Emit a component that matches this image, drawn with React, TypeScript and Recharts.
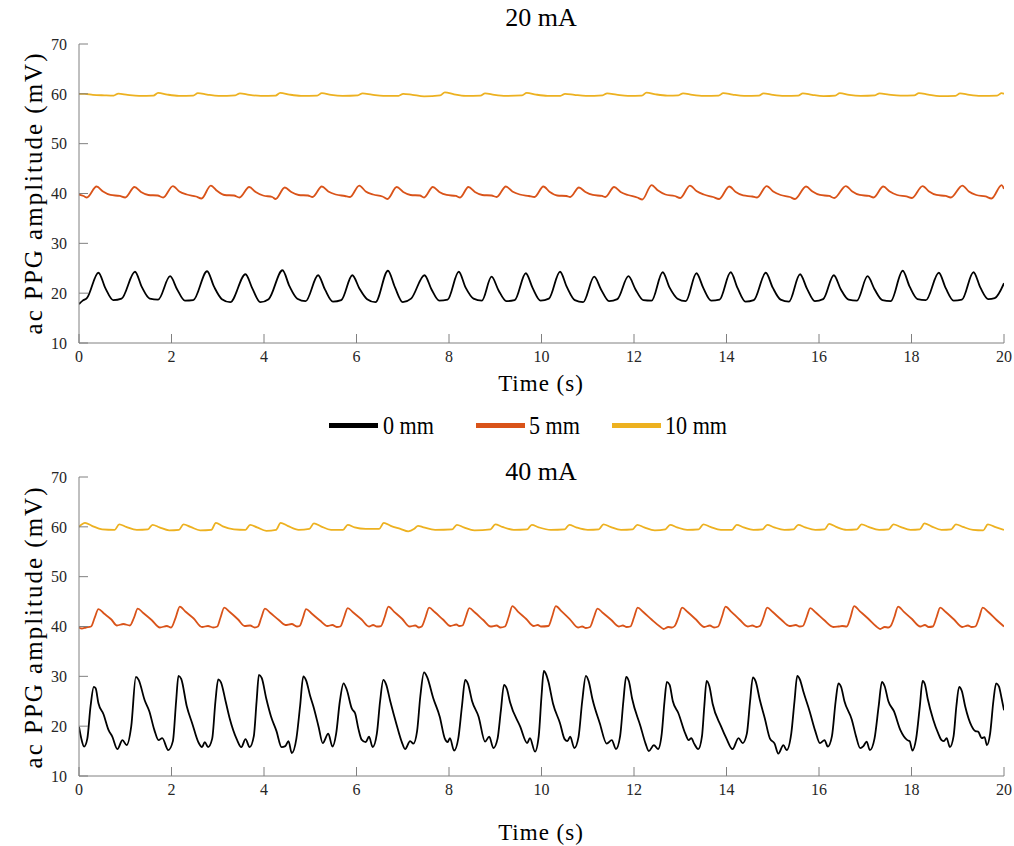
import React from 'react';
import { LineChart, Line, XAxis, YAxis } from 'recharts';

const xTicks = [0, 2, 4, 6, 8, 10, 12, 14, 16, 18, 20];
const yTicks = [10, 20, 30, 40, 50, 60, 70];
const seriesNames = ['0 mm', '5 mm', '10 mm'];
const seriesColors = ['#000000', '#D95319', '#EDB120'];
const panelTitles = ['20 mA', '40 mA'];
const xLabel = 'Time (s)';
const yLabel = 'ac PPG amplitude (mV)';

// 20 mA, 0 mm
const top0mm: number[][] = [
  [0,17.8],[0.08,18.5],[0.17,19.0],
  [0.42,24.1],[0.57,21.0],[0.74,18.6],[0.92,18.9],
  [1.21,24.3],[1.36,21.2],[1.53,18.9],[1.71,18.7],
  [1.97,23.4],[2.12,20.8],[2.29,18.5],[2.47,18.6],
  [2.77,24.4],[2.92,21.3],[3.09,18.8],[3.27,18.2],
  [3.6,23.8],[3.75,20.9],[3.92,18.2],[4.1,18.8],
  [4.4,24.6],[4.55,21.4],[4.72,18.9],[4.9,18.4],
  [5.17,23.6],[5.32,20.7],[5.49,18.3],[5.67,18.6],
  [5.91,23.6],[6.06,21.0],[6.23,18.8],[6.41,18.2],
  [6.68,24.5],[6.83,21.2],[7.0,18.2],[7.18,18.9],
  [7.47,23.6],[7.62,20.8],[7.79,18.5],[7.97,18.7],
  [8.21,24.3],[8.36,21.1],[8.53,18.9],[8.71,18.5],
  [8.92,23.3],[9.07,20.6],[9.24,18.4],[9.42,18.6],
  [9.66,24.0],[9.81,21.0],[9.98,18.5],[10.16,18.9],
  [10.4,24.3],[10.55,21.2],[10.72,18.6],[10.9,18.2],
  [11.14,23.3],[11.29,20.7],[11.46,18.4],[11.64,18.8],
  [11.88,23.4],[12.03,20.8],[12.2,18.6],[12.38,18.5],
  [12.62,24.2],[12.77,21.1],[12.94,18.9],[13.12,18.4],
  [13.35,24.0],[13.5,21.0],[13.67,18.5],[13.85,18.7],
  [14.09,24.2],[14.24,21.0],[14.41,18.3],[14.59,18.6],
  [14.85,24.1],[15.0,21.1],[15.17,18.7],[15.35,18.3],
  [15.59,23.8],[15.74,20.9],[15.91,18.4],[16.09,18.8],
  [16.32,23.6],[16.47,20.8],[16.64,18.7],[16.82,18.5],
  [17.05,23.4],[17.2,20.8],[17.37,18.6],[17.55,18.4],
  [17.81,24.5],[17.96,21.3],[18.13,18.8],[18.31,18.6],
  [18.59,24.1],[18.74,21.0],[18.91,18.5],[19.09,18.7],
  [19.34,24.2],[19.49,21.1],[19.66,18.8],[19.8,19.0],[20,22.0],
];

// 20 mA, 5 mm
const top5mm: number[][] = [
  [0,39.8],[0.1,39.5],[0.17,39.2],
  [0.38,41.4],[0.52,40.4],[0.68,39.7],[0.88,39.5],[1.0,39.2],
  [1.2,41.3],[1.34,40.3],[1.5,39.7],[1.7,39.6],[1.82,39.2],
  [2.03,41.5],[2.17,40.4],[2.33,39.8],[2.53,39.4],[2.65,39.0],
  [2.85,41.6],[2.99,40.5],[3.15,39.7],[3.35,39.6],[3.47,39.2],
  [3.68,41.3],[3.82,40.3],[3.98,39.6],[4.18,39.3],[4.25,38.9],
  [4.45,41.2],[4.59,40.3],[4.75,39.7],[4.95,39.6],[5.05,39.3],
  [5.25,41.4],[5.39,40.4],[5.55,39.8],[5.75,39.5],[5.86,39.3],
  [6.06,41.6],[6.2,40.4],[6.36,39.8],[6.56,39.4],[6.67,38.9],
  [6.87,41.3],[7.01,40.3],[7.17,39.7],[7.37,39.6],[7.46,39.2],
  [7.65,41.3],[7.79,40.3],[7.95,39.7],[8.15,39.5],[8.24,39.2],
  [8.42,41.3],[8.56,40.3],[8.72,39.7],[8.92,39.6],[9.03,39.3],
  [9.23,41.4],[9.37,40.4],[9.53,39.8],[9.73,39.5],[9.85,39.3],
  [10.04,41.4],[10.18,40.3],[10.34,39.6],[10.54,39.5],[10.62,39.3],
  [10.81,41.2],[10.95,40.3],[11.11,39.7],[11.31,39.5],[11.38,39.3],
  [11.57,41.3],[11.71,40.3],[11.87,39.7],[12.07,39.2],[12.18,38.8],
  [12.38,41.7],[12.52,40.6],[12.68,39.8],[12.88,39.5],[13.0,39.1],
  [13.21,41.6],[13.35,40.5],[13.51,39.8],[13.71,39.3],[13.84,38.9],
  [14.06,41.4],[14.2,40.3],[14.36,39.6],[14.56,39.4],[14.66,39.2],
  [14.87,41.5],[15.01,40.4],[15.17,39.7],[15.37,39.3],[15.48,38.9],
  [15.72,41.4],[15.86,40.4],[16.02,39.7],[16.22,39.5],[16.33,39.1],
  [16.58,41.5],[16.72,40.4],[16.88,39.7],[17.08,39.5],[17.18,39.2],
  [17.39,41.4],[17.53,40.4],[17.69,39.7],[17.89,39.4],[18.01,39.1],
  [18.24,41.5],[18.38,40.4],[18.54,39.7],[18.74,39.5],[18.85,39.2],
  [19.1,41.6],[19.24,40.4],[19.4,39.7],[19.6,39.4],[19.73,39.0],
  [19.95,41.7],[20,40.9],
];

// 20 mA, 10 mm
const top10mm: number[][] = [
  [0,60.0],[0.12,60.0],[0.3,59.8],[0.55,59.7],[0.75,59.65],
  [0.85,60.05],[1.05,59.8],[1.3,59.6],[1.61,59.65],
  [1.71,60.2],[1.91,59.85],[2.16,59.6],[2.47,59.65],
  [2.57,60.15],[2.77,59.85],[3.02,59.6],[3.38,59.7],
  [3.48,60.1],[3.68,59.8],[3.93,59.6],[4.25,59.65],
  [4.35,60.2],[4.55,59.85],[4.8,59.6],[5.15,59.65],
  [5.25,60.15],[5.45,59.8],[5.7,59.6],[6.03,59.7],
  [6.13,60.1],[6.33,59.85],[6.58,59.6],[6.91,59.6],
  [7.01,60.0],[7.21,59.8],[7.46,59.5],[7.81,59.7],
  [7.91,60.3],[8.11,59.9],[8.36,59.6],[8.68,59.65],
  [8.78,60.1],[8.98,59.8],[9.23,59.6],[9.58,59.7],
  [9.68,60.2],[9.88,59.85],[10.13,59.6],[10.41,59.6],
  [10.51,60.0],[10.71,59.8],[10.96,59.6],[11.32,59.7],
  [11.42,60.1],[11.62,59.85],[11.87,59.6],[12.17,59.65],
  [12.27,60.25],[12.47,59.9],[12.72,59.65],[12.96,59.7],
  [13.06,60.1],[13.26,59.8],[13.51,59.6],[13.83,59.65],
  [13.93,60.15],[14.13,59.85],[14.38,59.6],[14.7,59.65],
  [14.8,60.1],[15.0,59.8],[15.25,59.6],[15.55,59.65],
  [15.65,60.1],[15.85,59.8],[16.1,59.55],[16.35,59.65],
  [16.45,60.15],[16.65,59.8],[16.9,59.6],[17.21,59.7],
  [17.31,60.1],[17.51,59.85],[17.76,59.65],[18.06,59.7],
  [18.16,60.15],[18.36,59.85],[18.61,59.55],[18.95,59.6],
  [19.05,60.1],[19.25,59.8],[19.5,59.6],[19.85,59.65],
  [19.95,60.15],[20,60.0],
];

// 40 mA, 0 mm
const bot0mm: number[][] = [
  [0,19.9],[0.05,17.5],[0.11,15.9],[0.18,17.5],[0.25,24.0],[0.32,27.9],[0.36,27.6],
  [0.42,24.6],[0.53,22.4],[0.64,19.2],[0.72,17.9],[0.83,15.4],[0.94,17.2],[1.03,16.2],[1.13,20.0],[1.23,29.9],
  [1.29,29.3],[1.42,25.2],[1.52,23.0],[1.63,19.2],[1.72,17.2],[1.8,17.6],[1.93,15.2],[2.03,17.0],[2.1,25.0],[2.15,30.1],
  [2.21,29.5],[2.33,24.0],[2.45,20.5],[2.58,16.8],[2.66,15.8],[2.72,16.8],[2.79,15.8],[2.88,17.5],[2.95,25.0],[3.01,29.4],
  [3.07,28.8],[3.17,25.0],[3.26,21.5],[3.41,17.4],[3.51,15.8],[3.6,17.4],[3.69,15.8],[3.78,18.0],[3.84,25.0],[3.89,30.3],
  [3.95,29.7],[4.05,25.5],[4.15,22.0],[4.27,19.0],[4.38,15.8],[4.46,16.0],[4.53,17.0],[4.6,14.6],[4.7,17.5],[4.78,24.0],[4.85,30.0],
  [4.91,29.2],[5.0,26.0],[5.07,23.9],[5.18,19.9],[5.27,16.6],[5.39,18.5],[5.48,15.9],[5.56,18.5],[5.64,25.0],[5.72,28.6],
  [5.79,27.3],[5.9,23.5],[5.97,22.6],[6.04,19.5],[6.11,17.3],[6.2,16.8],[6.27,17.9],[6.35,15.8],[6.44,18.5],[6.51,25.0],[6.58,29.3],
  [6.64,28.4],[6.73,25.0],[6.87,20.2],[6.98,16.8],[7.05,15.4],[7.16,17.0],[7.23,16.5],[7.31,19.0],[7.38,26.0],[7.46,30.8],
  [7.53,29.8],[7.66,25.6],[7.8,21.9],[7.91,17.5],[7.97,16.8],[8.02,17.6],[8.11,15.1],[8.2,17.5],[8.28,24.0],[8.35,29.3],
  [8.41,28.5],[8.5,25.0],[8.64,21.9],[8.78,16.9],[8.87,17.9],[8.96,15.6],[9.05,17.5],[9.12,23.0],[9.19,28.3],
  [9.25,27.5],[9.32,24.8],[9.54,19.9],[9.69,16.6],[9.75,17.6],[9.86,14.9],[9.94,18.0],[10.0,26.0],[10.05,31.1],
  [10.1,30.4],[10.15,28.9],[10.25,24.5],[10.4,20.6],[10.5,17.4],[10.56,17.0],[10.62,17.9],[10.71,15.6],[10.8,17.8],[10.88,25.0],[10.96,30.1],
  [11.02,29.0],[11.1,25.5],[11.26,20.6],[11.41,16.5],[11.52,17.2],[11.61,15.4],[11.7,18.0],[11.77,25.0],[11.83,29.9],
  [11.89,29.0],[11.96,25.5],[12.14,20.0],[12.25,16.5],[12.32,15.0],[12.43,16.2],[12.52,15.4],[12.6,18.5],[12.66,25.0],[12.71,28.9],
  [12.77,28.3],[12.84,25.0],[12.96,22.6],[13.11,18.5],[13.18,17.2],[13.24,17.6],[13.3,16.5],[13.39,15.4],[13.47,18.0],[13.52,24.0],[13.57,29.1],
  [13.63,28.0],[13.7,24.5],[13.88,20.0],[14.0,17.5],[14.13,15.4],[14.26,17.6],[14.35,16.6],[14.44,18.5],[14.51,25.0],[14.57,29.8],
  [14.63,29.0],[14.72,25.3],[14.83,21.5],[14.94,17.5],[15.04,16.5],[15.12,14.5],[15.23,16.2],[15.3,15.2],[15.4,18.5],[15.47,25.0],[15.53,30.1],
  [15.59,29.3],[15.66,27.0],[15.8,22.9],[15.92,19.0],[16.02,16.6],[16.12,17.2],[16.19,15.9],[16.28,18.0],[16.36,25.0],[16.42,28.6],
  [16.48,27.8],[16.55,25.0],[16.71,21.3],[16.8,18.0],[16.89,15.6],[16.96,16.0],[17.03,16.9],[17.1,15.2],[17.2,17.5],[17.29,24.0],[17.36,28.9],
  [17.42,28.0],[17.5,25.0],[17.62,23.0],[17.76,19.2],[17.91,17.2],[17.96,17.0],[18.02,15.1],[18.1,17.5],[18.18,24.0],[18.24,29.1],
  [18.29,28.4],[18.35,25.5],[18.47,21.3],[18.58,18.5],[18.65,17.2],[18.7,17.0],[18.76,17.6],[18.83,15.8],[18.91,18.0],[18.97,24.0],[19.03,27.9],
  [19.09,27.0],[19.16,24.0],[19.3,20.0],[19.38,19.0],[19.44,18.9],[19.52,17.6],[19.58,17.8],[19.63,16.2],[19.7,18.5],[19.77,25.0],[19.83,28.6],
  [19.89,28.0],[19.95,25.5],[20,23.2],
];

// 40 mA, 5 mm
const bot5mm: number[][] = [
  [0,39.8],[0.06,39.6],[0.15,39.8],[0.26,40.0],[0.34,41.8],
  [0.42,43.5],[0.54,42.6],[0.7,41.4],[0.82,40.2],[0.96,40.5],[1.1,40.2],[1.19,41.8],
  [1.27,43.6],[1.39,42.7],[1.57,41.3],[1.75,39.8],[1.9,40.1],[1.99,39.8],[2.09,41.8],
  [2.18,44.0],[2.3,43.0],[2.48,41.6],[2.66,39.9],[2.79,40.1],[2.9,39.8],[2.99,40.0],[3.06,41.8],
  [3.14,43.8],[3.26,42.9],[3.44,41.4],[3.58,40.1],[3.7,40.2],[3.8,39.8],[3.87,40.0],[3.94,41.7],
  [4.02,43.6],[4.14,42.7],[4.32,41.3],[4.46,40.3],[4.6,40.5],[4.71,40.0],[4.77,40.1],[4.84,41.7],
  [4.91,43.5],[5.03,42.6],[5.21,41.2],[5.37,40.1],[5.48,40.3],[5.57,39.9],[5.65,40.0],[5.73,41.8],
  [5.81,43.7],[5.93,42.8],[6.11,41.4],[6.27,40.0],[6.36,40.3],[6.44,40.0],[6.53,40.1],[6.61,41.9],
  [6.69,44.0],[6.81,43.0],[6.99,41.5],[7.15,40.0],[7.27,40.2],[7.35,39.8],[7.41,40.0],[7.49,41.8],
  [7.57,43.8],[7.69,42.9],[7.87,41.4],[8.03,40.1],[8.16,40.4],[8.22,40.1],[8.29,40.2],[8.36,41.8],
  [8.44,43.7],[8.56,42.8],[8.74,41.3],[8.9,40.0],[9.03,40.2],[9.11,39.8],[9.21,40.0],[9.29,41.9],
  [9.37,44.1],[9.49,43.0],[9.67,41.5],[9.83,40.1],[9.92,40.3],[9.99,40.0],[10.15,40.1],[10.23,42.0],
  [10.31,44.1],[10.43,43.1],[10.61,41.5],[10.79,39.8],[10.88,40.0],[10.96,39.7],[11.05,39.9],[11.13,41.8],
  [11.21,43.6],[11.33,42.7],[11.51,41.3],[11.67,40.0],[11.76,40.2],[11.84,39.9],[11.92,40.0],[12.0,41.8],
  [12.08,43.8],[12.2,42.9],[12.38,41.4],[12.56,40.0],[12.64,39.5],[12.74,39.9],[12.82,39.8],[12.88,40.1],[12.96,41.8],
  [13.04,43.8],[13.16,42.9],[13.34,41.4],[13.52,39.9],[13.64,40.2],[13.73,39.8],[13.82,40.0],[13.9,41.9],
  [13.98,44.0],[14.1,43.0],[14.28,41.4],[14.46,40.0],[14.56,40.2],[14.65,39.9],[14.72,40.1],[14.8,41.8],
  [14.88,43.8],[15.0,42.9],[15.18,41.4],[15.36,40.1],[15.5,40.3],[15.58,40.0],[15.65,40.1],[15.73,41.8],
  [15.81,43.7],[15.93,42.8],[16.11,41.3],[16.31,39.9],[16.42,40.0],[16.5,40.1],[16.6,40.0],[16.68,41.8],
  [16.76,44.1],[16.88,43.1],[17.06,41.6],[17.24,40.0],[17.32,39.5],[17.42,39.9],[17.5,39.8],[17.55,40.1],[17.63,41.9],
  [17.71,44.0],[17.83,43.0],[18.01,41.5],[18.19,40.0],[18.29,40.3],[18.37,39.9],[18.46,40.0],[18.54,41.8],
  [18.62,43.8],[18.74,42.9],[18.92,41.4],[19.1,39.9],[19.22,40.2],[19.3,39.9],[19.38,40.0],[19.46,41.7],
  [19.54,43.8],[19.66,42.9],[19.84,41.3],[20,40.0],
];

// 40 mA, 10 mm
const bot10mm: number[][] = [
  [0,60.0],[0.13,60.8],[0.28,60.2],[0.5,59.5],[0.77,59.4],
  [0.87,60.5],[1.02,60.0],[1.25,59.4],[1.49,59.5],
  [1.59,60.4],[1.74,59.9],[1.95,59.3],[2.16,59.4],
  [2.26,60.5],[2.41,60.0],[2.62,59.3],[2.86,59.4],
  [2.96,60.8],[3.11,60.1],[3.35,59.5],[3.6,59.4],
  [3.7,60.4],[3.85,59.9],[4.05,59.2],[4.26,59.4],
  [4.36,60.8],[4.51,60.2],[4.75,59.4],[4.98,59.6],
  [5.08,60.7],[5.23,60.1],[5.45,59.4],[5.71,59.4],
  [5.81,60.4],[5.96,59.9],[6.2,59.6],[6.49,59.6],
  [6.59,60.8],[6.74,60.2],[6.95,59.6],[7.12,59.1],[7.25,59.6],
  [7.33,60.2],[7.45,59.9],[7.7,59.4],[8.07,59.5],
  [8.17,60.4],[8.32,59.9],[8.55,59.3],[8.9,59.5],
  [9.0,60.5],[9.15,60.0],[9.4,59.4],[9.69,59.5],
  [9.79,60.4],[9.94,59.9],[10.2,59.4],[10.5,59.5],
  [10.6,60.4],[10.75,59.9],[11.0,59.4],[11.24,59.5],
  [11.34,60.5],[11.49,60.0],[11.72,59.4],[11.97,59.5],
  [12.07,60.4],[12.22,59.9],[12.45,59.3],[12.68,59.5],
  [12.78,60.4],[12.93,59.9],[13.15,59.4],[13.4,59.5],
  [13.5,60.5],[13.65,60.0],[13.88,59.4],[14.12,59.4],
  [14.22,60.4],[14.37,59.9],[14.58,59.4],[14.78,59.5],
  [14.88,60.4],[15.03,59.9],[15.25,59.4],[15.45,59.5],
  [15.55,60.4],[15.7,59.9],[15.92,59.4],[16.12,59.5],
  [16.22,60.6],[16.37,60.0],[16.6,59.4],[16.82,59.5],
  [16.92,60.5],[17.07,60.0],[17.3,59.4],[17.51,59.5],
  [17.61,60.5],[17.76,60.0],[17.98,59.4],[18.18,59.5],
  [18.28,60.7],[18.43,60.1],[18.65,59.4],[18.86,59.5],
  [18.96,60.5],[19.11,60.0],[19.33,59.4],[19.55,59.3],
  [19.65,60.5],[19.8,60.0],[20,59.4],
];

const FONT = "'Liberation Serif', 'Times New Roman', serif";
const AXIS_GRAY = '#808080';
const TEXT_COLOR = '#262626';

const toRows = (pairs: number[][]) => pairs.map(([t, v]) => ({ t, v }));

function Panel({ top, height, marginTop, marginBottom, series }: { top: number; height: number; marginTop: number; marginBottom: number; series: number[][][] }) {
  return (
    <div style={{ position: 'absolute', left: 0, top, width: 1014, height }}>
      <LineChart width={1014} height={height} margin={{ top: marginTop, right: 10, bottom: marginBottom, left: 0 }}>
        <XAxis
          type="number"
          dataKey="t"
          domain={[0, 20]}
          ticks={xTicks}
          interval={0}
          allowDataOverflow
          height={30}
          tickSize={-9}
          tickMargin={17}
          stroke={AXIS_GRAY}
          tickLine={{ stroke: AXIS_GRAY }}
          tick={{ fill: TEXT_COLOR, fontSize: 16, fontFamily: FONT }}
        />
        <YAxis
          type="number"
          domain={[10, 70]}
          ticks={yTicks}
          interval={0}
          allowDataOverflow
          width={79}
          tickSize={-9}
          tickMargin={21}
          stroke={AXIS_GRAY}
          tickLine={{ stroke: AXIS_GRAY }}
          tick={{ fill: TEXT_COLOR, fontSize: 16, fontFamily: FONT }}
        />
        {series.map((s, i) => (
          <Line
            key={seriesNames[i]}
            data={toRows(s)}
            dataKey="v"
            name={seriesNames[i]}
            type="monotone"
            stroke={seriesColors[i]}
            strokeWidth={1.8}
            dot={false}
            activeDot={false}
            isAnimationActive={false}
          />
        ))}
      </LineChart>
    </div>
  );
}

function CText({ x, y, size, children, spacing = 0, rotate = false }: { x: number; y: number; size: number; children: React.ReactNode; spacing?: number; rotate?: boolean }) {
  return (
    <div
      style={{
        position: 'absolute',
        left: x,
        top: y,
        transform: `translate(-50%, -50%)${rotate ? ' rotate(-90deg)' : ''}`,
        fontFamily: FONT,
        fontSize: size,
        lineHeight: 1,
        whiteSpace: 'nowrap',
        color: '#000',
        letterSpacing: spacing,
      }}
    >
      {children}
    </div>
  );
}

const legendLayout = [
  { lineX: 329, textX: 383 },
  { lineX: 476, textX: 529 },
  { lineX: 612, textX: 665 },
];

export default function App() {
  return (
    <div style={{ position: 'absolute', left: 0, top: 0, width: 1014, height: 846, background: '#fff', overflow: 'hidden' }}>
      <Panel top={0} height={380} marginTop={44} marginBottom={7} series={[top0mm, top5mm, top10mm]} />
      <Panel top={430} height={400} marginTop={47} marginBottom={24} series={[bot0mm, bot5mm, bot10mm]} />

      <CText x={541} y={18} size={26}>{panelTitles[0]}</CText>
      <CText x={541} y={472} size={26}>{panelTitles[1]}</CText>
      <CText x={541} y={383} size={23} spacing={1}>{xLabel}</CText>
      <CText x={541} y={832} size={23} spacing={1}>{xLabel}</CText>
      <CText x={33} y={193} size={25} spacing={2} rotate>{yLabel}</CText>
      <CText x={33} y={627} size={25} spacing={2} rotate>{yLabel}</CText>

      {legendLayout.map((l, i) => (
        <React.Fragment key={seriesNames[i]}>
          <div style={{ position: 'absolute', left: l.lineX, top: 423, width: 49, height: 5, background: seriesColors[i] }} />
          <div
            style={{
              position: 'absolute',
              left: l.textX,
              top: 426,
              transform: 'translateY(-50%) scaleX(0.85)',
              transformOrigin: 'left center',
              fontFamily: FONT,
              fontSize: 26,
              lineHeight: 1,
              whiteSpace: 'nowrap',
              color: '#000',
            }}
          >
            {seriesNames[i]}
          </div>
        </React.Fragment>
      ))}
    </div>
  );
}
